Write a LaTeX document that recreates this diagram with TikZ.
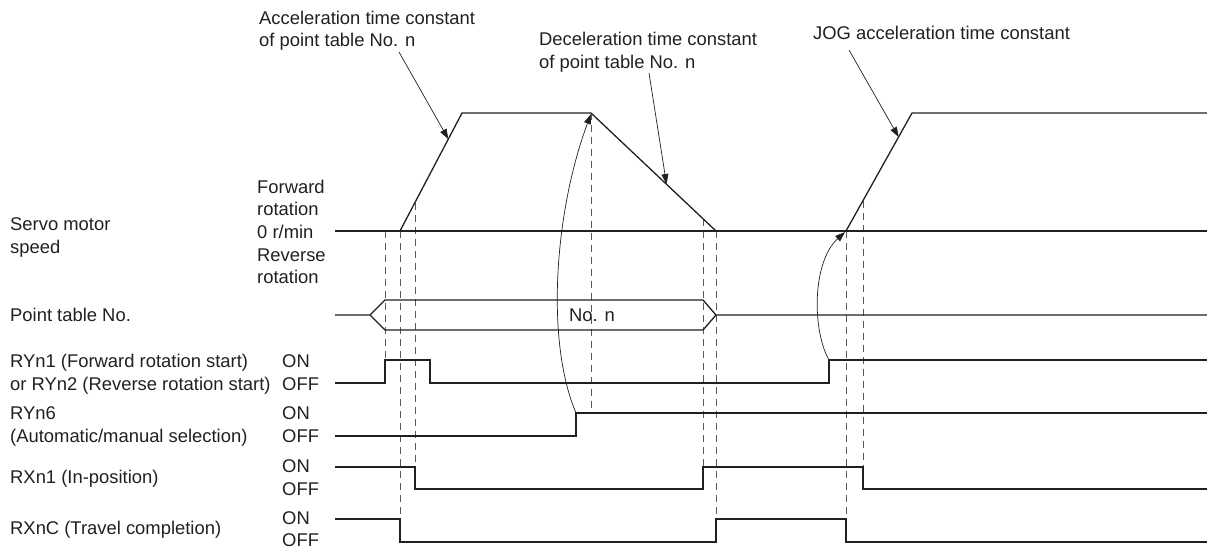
\documentclass[tikz,border=0pt]{standalone}
\usepackage{fontspec}
\setmainfont{Liberation Sans}
\usetikzlibrary{arrows.meta}
\definecolor{ink}{HTML}{231F20}
\definecolor{dgray}{HTML}{58595B}
\begin{document}
\begin{tikzpicture}[x=1pt,y=-1pt,
  sig/.style={line width=1.3pt,ink,line join=miter},
  dsh/.style={line width=1pt,dgray,dash pattern=on 7pt off 5pt},
  thinarrow/.style={line width=0.7pt,ink,-{Triangle[length=10pt,width=7pt]}},
  lbl/.style={anchor=base west,inner sep=0pt,font=\fontsize{18.4pt}{22pt}\selectfont,text=ink},
  clbl/.style={anchor=base,inner sep=0pt,font=\fontsize{18.4pt}{22pt}\selectfont,text=ink}]
\useasboundingbox (0,0) rectangle (1207,549);

% ---- annotation texts
\node[lbl] (acc1) at (259,24.5) {Acceleration time constant};
\node[lbl] (acc2) at (259,46.5) {of point table No. n};
\node[lbl] (dec1) at (539,45.5) {Deceleration time constant};
\node[lbl] (dec2) at (539,68.5) {of point table No. n};
\node[lbl] (jog) at (813,39.5) {JOG acceleration time constant};

% ---- left labels
\node[lbl] (fw1) at (257,193.5) {Forward};
\node[lbl] (fw2) at (257,215.5) {rotation};
\node[lbl] (zero) at (257,238) {0 r/min};
\node[lbl] (rv1) at (257,261) {Reverse};
\node[lbl] (rv2) at (257,283.5) {rotation};
\node[lbl] (sm1) at (10,230.5) {Servo motor};
\node[lbl] (sm2) at (10,253.5) {speed};
\node[lbl] (pt) at (10,321.5) {Point table No.};
\node[lbl] (ry1a) at (10,367.5) {RYn1 (Forward rotation start)};
\node[lbl] (ry1b) at (10,390.5) {or RYn2 (Reverse rotation start)};
\node[lbl] (ry1on) at (282,367.5) {ON};
\node[lbl] (ry1off) at (282,390.5) {OFF};
\node[lbl] (ry6a) at (10,419.5) {RYn6};
\node[lbl] (ry6b) at (10,442.5) {(Automatic/manual selection)};
\node[lbl] (ry6on) at (282,419.5) {ON};
\node[lbl] (ry6off) at (282,442.5) {OFF};
\node[lbl] (rx1) at (10,483.5) {RXn1 (In-position)};
\node[lbl] (rx1on) at (282,472.5) {ON};
\node[lbl] (rx1off) at (282,495.5) {OFF};
\node[lbl] (rxc) at (10,534.5) {RXnC (Travel completion)};
\node[lbl] (rxcon) at (282,524.5) {ON};
\node[lbl] (rxcoff) at (282,546) {OFF};

% ---- dashed timing guides
\draw[dsh] (385,231) -- (385,360);
\draw[dsh] (400,231) -- (400,519);
\draw[dsh] (415,202.5) -- (415,467);
\draw[dsh] (591,113) -- (591,413);
\draw[dsh] (703,219) -- (703,467);
\draw[dsh] (716,231) -- (716,519);
\draw[dsh] (846,231) -- (846,519);
\draw[dsh] (863,201) -- (863,467);

% ---- servo motor speed
\draw[sig] (335,231) -- (1207,231);
\draw[sig] (400,231) -- (462,113) -- (591,113) -- (716,231);
\draw[sig] (846,231) -- (912,113) -- (1207,113);

% ---- point table No.
\draw[sig] (335,315) -- (370,315) -- (385,300) -- (703,300) -- (716,315) -- (1207,315);
\draw[sig] (370,315) -- (385,330) -- (703,330) -- (716,315);
\node[clbl] (non) at (592,321.5) {No. n};

% ---- RYn1 / RYn2
\draw[sig] (335,383) -- (385,383) -- (385,360) -- (430,360) -- (430,383) -- (829,383) -- (829,360) -- (1207,360);
% ---- RYn6
\draw[sig] (335,436) -- (576,436) -- (576,413) -- (1207,413);
% ---- RXn1
\draw[sig] (335,467) -- (415,467) -- (415,489) -- (703,489) -- (703,467) -- (863,467) -- (863,489) -- (1207,489);
% ---- RXnC
\draw[sig] (335,519) -- (400,519) -- (400,542) -- (716,542) -- (716,519) -- (846,519) -- (846,542) -- (1207,542);

% ---- annotation arrows
\coordinate (accS) at (399,52);
\coordinate (accT) at (448.3,139);
\coordinate (decS) at (649,73);
\coordinate (decT) at (666.5,184);
\coordinate (jogS) at (849,50);
\coordinate (jogT) at (898.6,137);
\draw[thinarrow] (accS) -- (accT);
\draw[thinarrow] (decS) -- (decT);
\draw[thinarrow] (jogS) -- (jogT);

% ---- curved cause arrows
\coordinate (r6up) at (576,413);
\coordinate (decStart) at (591,114);
\coordinate (r1up) at (829,360);
\coordinate (jogStart) at (845,232);
\draw[thinarrow] (r6up) .. controls (545,340) and (555,210) .. (decStart);
\draw[thinarrow] (r1up) .. controls (812,330) and (812,262) .. (jogStart);
\end{tikzpicture}
\end{document}
